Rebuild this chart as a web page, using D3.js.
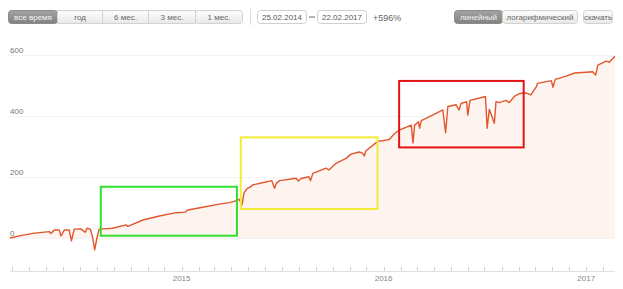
<!DOCTYPE html>
<html>
<head>
<meta charset="utf-8">
<script src="https://cdn.jsdelivr.net/npm/d3@7"></script>
<style>
  body { margin: 0; background: #fff; }
  svg { font-family: "Liberation Sans", Arial, sans-serif; display: block; }
</style>
</head>
<body>
<svg id="chart" width="623" height="289"></svg>
<script>
// series (gain since start, %)
var dates = [
  "2014-02-25","2014-03-14","2014-04-07","2014-05-07","2014-05-10","2014-05-16","2014-05-25","2014-05-28",
  "2014-06-03","2014-06-12","2014-06-16","2014-06-21","2014-07-03","2014-07-11","2014-07-14","2014-07-20",
  "2014-07-24","2014-07-28","2014-08-01","2014-08-05","2014-08-29","2014-09-23","2014-09-26","2014-10-23",
  "2014-11-22","2014-12-22","2015-01-08","2015-01-12","2015-02-08","2015-03-10","2015-03-28","2015-04-06",
  "2015-04-15","2015-04-20","2015-04-24","2015-04-30","2015-05-06","2015-05-09","2015-05-27","2015-06-13",
  "2015-06-18","2015-06-21","2015-06-27","2015-07-27","2015-07-31","2015-08-05","2015-08-19","2015-08-22",
  "2015-08-26","2015-09-19","2015-09-24","2015-10-07","2015-10-25","2015-11-03","2015-11-18","2015-11-24",
  "2015-11-27","2015-11-30","2015-12-18","2015-12-24","2015-12-30","2016-01-05","2016-01-11","2016-01-20",
  "2016-01-29","2016-02-20","2016-02-23","2016-02-26","2016-03-04","2016-03-06","2016-03-09","2016-03-24",
  "2016-04-17","2016-04-22","2016-04-26","2016-05-11","2016-05-16","2016-05-20","2016-05-30","2016-06-01",
  "2016-06-05","2016-07-03","2016-07-06","2016-07-10","2016-07-19","2016-07-22","2016-07-28","2016-08-09",
  "2016-08-15","2016-08-24","2016-09-03","2016-09-14","2016-09-23","2016-10-03","2016-10-05","2016-10-30",
  "2016-11-02","2016-11-06","2016-11-26","2016-12-11","2017-01-13","2017-01-18","2017-01-22","2017-02-06",
  "2017-02-12","2017-02-22"
];
var values = [
  0, 7, 15, 21, 15, 26, 26, 7,
  26, 26, -9, 29, 30, 19, 32, 29,
  5, -39, 0, 29, 32, 43, 38, 59,
  72, 83, 85, 92, 101, 111, 116, 120,
  127, 108, 149, 163, 168, 174, 181, 188,
  163, 179, 188, 196, 187, 195, 201, 188,
  212, 229, 223, 245, 261, 275, 282, 278,
  269, 286, 312, 318, 319, 321, 323, 341,
  354, 370, 312, 370, 381, 360, 385, 398,
  420, 345, 431, 437, 420, 441, 447, 403,
  451, 464, 360, 422, 376, 447, 444, 451,
  444, 464, 474, 476, 469, 496, 507, 516,
  494, 520, 531, 541, 545, 534, 567, 580,
  577, 596
];
var yTicks = [0, 200, 400, 600];
var yearLabels = ["2015", "2016", "2017"];
var rangeButtons = ["все время", "год", "6 мес.", "3 мес.", "1 мес."];
var dateFrom = "25.02.2014", dateTo = "22.02.2017", changeText = "+596%";
var scaleButtons = ["линейный", "логарифмический"];
var downloadText = "скачать";
// highlighted periods: [start, end, low, high, colour]
var boxStarts = ["2014-08-08", "2015-04-18", "2016-01-29"];
var boxEnds   = ["2015-04-11", "2015-12-21", "2016-09-10"];
var boxLows   = [7.5, 95, 297];
var boxHighs  = [168, 330, 515];
var boxColors = ["#2fe02f", "#f2ec38", "#e01414"];

var parse = d3.timeParse("%Y-%m-%d");
var data = dates.map(function(d, i) { return { date: parse(d), value: values[i] }; });

var svg = d3.select("#chart");

var x = d3.scaleTime()
  .domain([parse(dates[0]), parse(dates[dates.length - 1])])
  .range([10, 615]);
var y = d3.scaleLinear().domain([0, 600]).range([238, 55]);

// gradients for the buttons
var defs = svg.append("defs");
function grad(id, a, b) {
  var g = defs.append("linearGradient").attr("id", id).attr("x1", 0).attr("y1", 0).attr("x2", 0).attr("y2", 1);
  g.append("stop").attr("offset", "0%").attr("stop-color", a);
  g.append("stop").attr("offset", "100%").attr("stop-color", b);
}
grad("btn", "#fdfdfd", "#e9e9e9");
grad("btnOn", "#a3a3a3", "#828282");
defs.append("clipPath").attr("id", "above0")
  .append("rect").attr("x", 0).attr("y", 0).attr("width", 623).attr("height", y(0));

// header controls
var header = svg.append("g");
var bw = [49, 45, 46, 47, 47], bx = 8;
rangeButtons.forEach(function(t, i) {
  header.append("rect").attr("x", bx + 0.5).attr("y", 10.5).attr("width", bw[i]).attr("height", 13)
    .attr("rx", i === 0 || i === rangeButtons.length - 1 ? 3 : 0)
    .attr("fill", i === 0 ? "url(#btnOn)" : "url(#btn)")
    .attr("stroke", i === 0 ? "#8a8a8a" : "#d2d2d2");
  header.append("text").attr("x", bx + bw[i] / 2 + 0.5).attr("y", 20)
    .attr("text-anchor", "middle").attr("font-size", 8)
    .attr("fill", i === 0 ? "#f4f4f4" : "#666").text(t);
  bx += bw[i];
});
header.append("line").attr("x1", 250.5).attr("x2", 250.5).attr("y1", 9).attr("y2", 25).attr("stroke", "#ddd");

function box(xp, w, label) {
  header.append("rect").attr("x", xp + 0.5).attr("y", 10.5).attr("width", w).attr("height", 13).attr("rx", 3)
    .attr("fill", "#fff").attr("stroke", "#cfcfcf");
  header.append("text").attr("x", xp + w / 2 + 0.5).attr("y", 20).attr("text-anchor", "middle")
    .attr("font-size", 8).attr("fill", "#555").text(label);
}
box(257, 49, dateFrom);
header.append("line").attr("x1", 309).attr("x2", 315).attr("y1", 17).attr("y2", 17).attr("stroke", "#666");
box(317, 49, dateTo);
header.append("text").attr("x", 373).attr("y", 20.5).attr("font-size", 9).attr("fill", "#666").text(changeText);

var sx = 454, sw = [48, 75];
scaleButtons.forEach(function(t, i) {
  header.append("rect").attr("x", sx + 0.5).attr("y", 10.5).attr("width", sw[i]).attr("height", 13).attr("rx", 3)
    .attr("fill", i === 0 ? "url(#btnOn)" : "url(#btn)")
    .attr("stroke", i === 0 ? "#8a8a8a" : "#d2d2d2");
  header.append("text").attr("x", sx + sw[i] / 2 + 0.5).attr("y", 20).attr("text-anchor", "middle")
    .attr("font-size", 8).attr("fill", i === 0 ? "#f4f4f4" : "#666").text(t);
  sx += sw[i];
});
header.append("rect").attr("x", 583.5).attr("y", 10.5).attr("width", 29).attr("height", 13).attr("rx", 3)
  .attr("fill", "url(#btn)").attr("stroke", "#d2d2d2");
header.append("text").attr("x", 598).attr("y", 20).attr("text-anchor", "middle")
  .attr("font-size", 8).attr("fill", "#666").text(downloadText);

// grid + y labels
var grid = svg.append("g");
grid.selectAll("line").data(yTicks).enter().append("line")
  .attr("x1", 8).attr("x2", 615)
  .attr("y1", function(d) { return Math.round(y(d)) + 0.5; })
  .attr("y2", function(d) { return Math.round(y(d)) + 0.5; })
  .attr("stroke", "#f3f3f3");
grid.selectAll("text").data(yTicks).enter().append("text")
  .attr("x", 10).attr("y", function(d) { return y(d) - 2; })
  .attr("font-size", 8).attr("fill", "#777")
  .text(function(d) { return d; });

// area + line
var area = d3.area().x(function(d) { return x(d.date); }).y0(y(0)).y1(function(d) { return y(d.value); });
svg.append("path").datum(data).attr("clip-path", "url(#above0)")
  .attr("d", area).attr("fill", "#fdf3ef");
var line = d3.line().x(function(d) { return x(d.date); }).y(function(d) { return y(d.value); });
svg.append("path").datum(data).attr("d", line)
  .attr("fill", "none").attr("stroke", "#e2562c").attr("stroke-width", 1.4).attr("stroke-linejoin", "round");

// highlight boxes
svg.selectAll(".hl").data(boxStarts).enter().append("rect").attr("class", "hl")
  .attr("x", function(d) { return x(parse(d)); })
  .attr("y", function(d, i) { return y(boxHighs[i]); })
  .attr("width", function(d, i) { return x(parse(boxEnds[i])) - x(parse(d)); })
  .attr("height", function(d, i) { return y(boxLows[i]) - y(boxHighs[i]); })
  .attr("fill", "none").attr("stroke-width", 2)
  .attr("stroke", function(d, i) { return boxColors[i]; });

// time axis
var axisY = 271;
var xa = svg.append("g");
xa.append("line").attr("x1", 10).attr("x2", 615).attr("y1", axisY + 0.5).attr("y2", axisY + 0.5).attr("stroke", "#e2e2e2");
xa.selectAll(".mt").data(x.ticks(d3.timeMonth.every(1))).enter().append("line").attr("class", "mt")
  .attr("x1", function(d) { return Math.round(x(d)) + 0.5; })
  .attr("x2", function(d) { return Math.round(x(d)) + 0.5; })
  .attr("y1", axisY - 4).attr("y2", axisY)
  .attr("stroke", "#d0d0d0");
xa.selectAll(".yl").data(yearLabels).enter().append("text").attr("class", "yl")
  .attr("x", function(d) { return x(parse(d + "-01-01")); })
  .attr("y", 281).attr("text-anchor", "middle")
  .attr("font-size", 8).attr("fill", "#888")
  .text(function(d) { return d; });
</script>
</body>
</html>
